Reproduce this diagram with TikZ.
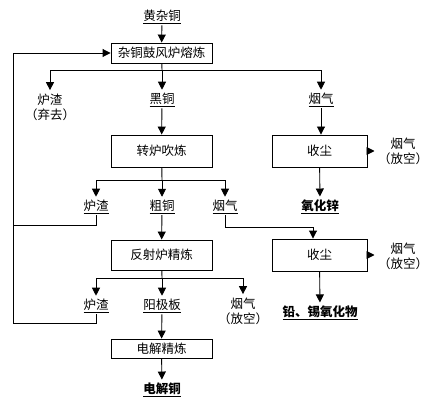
\documentclass[tikz,border=0pt]{standalone}
\usepackage{fontspec}
\setmainfont{Noto Sans CJK SC}
\usetikzlibrary{arrows.meta, positioning, calc}
\tikzset{
  every node/.style={font=\fontsize{12.5}{15}\selectfont},
  proc/.style  = {rectangle, draw=black, line width=0.9pt, inner sep=0pt,
                 minimum width=101pt},
  dust/.style  = {rectangle, draw=black, line width=0.9pt, inner sep=0pt,
                 minimum width=95pt, minimum height=32pt},
  mat/.style   = {inner sep=1.5pt, outer sep=2pt},
  vent/.style  = {mat, align=center},
  prod/.style  = {mat, font=\fontsize{12.5}{15}\selectfont\bfseries},
  arrow/.style = {-{Triangle[length=8pt,width=8pt]}, line width=0.9pt},
  line/.style  = {line width=0.9pt},
}

\begin{document}
\begin{tikzpicture}[x=1pt,y=-1pt]
  \useasboundingbox (0,0) rectangle (434,409);

  % first stage
  \node[mat]  (feed)   at (162,16)    {黄杂铜};
  \node[proc, minimum height=20pt] (blast) at (161.5,53) {杂铜鼓风炉熔炼};
  \node[vent] (slag1)  at (50,107)    {炉渣\\（弃去）};
  \node[mat]  (black)  at (162,99)    {黑铜};
  \node[mat]  (fume1)  at (321,99)    {烟气};

  % converter
  \node[proc, minimum height=32pt] (conv) at (161.5,151) {转炉吹炼};
  \node[dust] (dust1)  at (319.5,151) {收尘};
  \node[vent] (vent1)  at (403,151)   {烟气\\（放空）};
  \node[prod] (zno)    at (320,206)   {氧化锌};
  \node[mat]  (slag2)  at (96,206)    {炉渣};
  \node[mat]  (blister) at (162,206)  {粗铜};
  \node[mat]  (fume2)  at (225,206)   {烟气};

  % reverberatory furnace
  \node[proc, minimum height=30pt] (refine) at (161.5,255) {反射炉精炼};
  \node[dust] (dust2)  at (319.5,255) {收尘};
  \node[vent] (vent2)  at (403,256)   {烟气\\（放空）};
  \node[prod] (pbsn)   at (320,312)   {铅、锡氧化物};
  \node[mat]  (slag3)  at (96,305)    {炉渣};
  \node[mat]  (anode)  at (162,305)   {阳极板};
  \node[vent] (fume3)  at (243,311)   {烟气\\（放空）};

  % electrolysis
  \node[proc, minimum height=19pt] (elec) at (161.5,348.5) {电解精炼};
  \node[prod] (cathode) at (162,389)  {电解铜};

  % underlines
  \foreach \n in {feed,black,fume1,zno,slag2,blister,fume2,pbsn,slag3,anode,cathode}
    \draw[line] ([xshift=3.5pt,yshift=-3pt]\n.base west) -- ([xshift=-3.5pt,yshift=-3pt]\n.base east);

  \coordinate (j1) at (162,70);
  \coordinate (j2) at (162,180);
  \coordinate (j3) at (162,278);
  \coordinate (ret1) at (13,225);
  \coordinate (ret2) at (13,323);
  \coordinate (f2) at (313,227);

  \draw[arrow] (feed) -- (blast);
  \draw[line]  (blast) -- (j1);
  \draw[arrow] (j1) -| (slag1);
  \draw[arrow] (j1) -- (black);
  \draw[arrow] (j1) -| (fume1);
  \draw[arrow] (black) -- (conv);
  \draw[arrow] (fume1) -- (dust1.north -| fume1);
  \draw[arrow] (dust1) -- (dust1 -| vent1.west);
  \draw[arrow] (dust1) -- (zno);

  \draw[line]  (conv) -- (j2);
  \draw[arrow] (j2) -| (slag2);
  \draw[arrow] (j2) -- (blister);
  \draw[arrow] (j2) -| (fume2);
  \draw[arrow] (blister) -- (refine);
  \draw[arrow] (fume2) |- (f2) -- (f2 |- dust2.north);
  \draw[arrow] (dust2) -- (dust2 -| vent2.west);
  \draw[arrow] (dust2) -- (pbsn);
  \draw[line]  (slag2) |- (ret1);

  \draw[line]  (refine) -- (j3);
  \draw[arrow] (j3) -| (slag3);
  \draw[arrow] (j3) -- (anode);
  \draw[arrow] (j3) -| (fume3);
  \draw[arrow] (anode) -- (elec);
  \draw[arrow] (elec) -- (cathode);
  \draw[arrow] (slag3) |- (ret2) |- (blast);
\end{tikzpicture}
\end{document}
